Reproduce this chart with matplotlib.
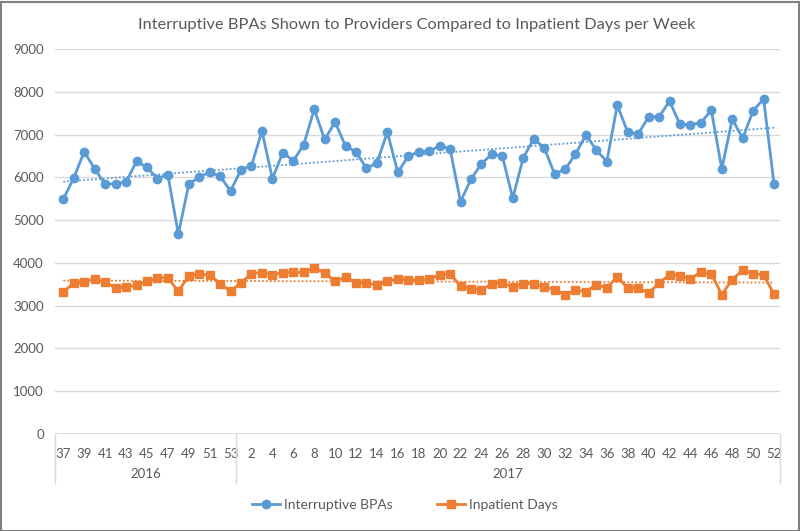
import matplotlib
matplotlib.use("Agg")
import matplotlib.pyplot as plt
import numpy as np
from matplotlib.patches import Rectangle

plt.rcParams['font.family'] = ['Lato', 'DejaVu Sans']

# ---- data ----
weeks_2016 = list(range(37, 54))
weeks_2017 = list(range(1, 53))
years = ["2016", "2017"]

bpas_2016 = [5490, 5990, 6600, 6195, 5840, 5855, 5890, 6375, 6235, 5970, 6065,
             4670, 5840, 6005, 6125, 6025, 5680]
bpas_2017 = [6180, 6275, 7080, 5970, 6580, 6385, 6765, 7590, 6885, 7290,
             6730, 6595, 6210, 6335, 7055, 6120, 6490, 6600, 6610, 6735,
             6670, 5430, 5955, 6320, 6540, 6500, 5510, 6455, 6900, 6695,
             6080, 6185, 6540, 6995, 6635, 6370, 7690, 7055, 7015, 7415,
             7415, 7780, 7240, 7235, 7275, 7570, 6195, 7360, 6915, 7555,
             7835, 5840]

days_2016 = [3320, 3530, 3545, 3630, 3545, 3420, 3440, 3475, 3570, 3650, 3650,
             3335, 3695, 3735, 3720, 3515, 3335]
days_2017 = [3540, 3750, 3775, 3720, 3775, 3780, 3780, 3890, 3765, 3565,
             3670, 3540, 3530, 3485, 3570, 3625, 3610, 3595, 3615, 3725,
             3750, 3455, 3390, 3375, 3500, 3525, 3440, 3515, 3515, 3440,
             3375, 3260, 3365, 3330, 3490, 3415, 3670, 3415, 3415, 3295,
             3530, 3725, 3705, 3625, 3790, 3740, 3260, 3610, 3830, 3750,
             3720, 3265]

series_names = ["Interruptive BPAs", "Inpatient Days"]
title = "Interruptive BPAs Shown to Providers Compared to Inpatient Days per Week"

# ---- build ----
week_labels = [str(w) for w in weeks_2016 + weeks_2017]
bpas = np.array(bpas_2016 + bpas_2017, dtype=float)
days = np.array(days_2016 + days_2017, dtype=float)
x = np.arange(len(week_labels))

BLUE = "#5B9BD5"
ORANGE = "#ED7D31"
GRID = "#D9D9D9"
TXT = "#595959"

W, H = 800, 531
fig = plt.figure(figsize=(W / 100, H / 100), dpi=100)
ax_l, ax_r, ax_t, ax_b = 55, 780, 49, 434
ax = fig.add_axes([ax_l / W, 1 - ax_b / H, (ax_r - ax_l) / W, (ax_b - ax_t) / H])

l1, = ax.plot(x, bpas, color=BLUE, lw=2.0, marker='o', ms=6, label=series_names[0], zorder=4)
l2, = ax.plot(x, days, color=ORANGE, lw=2.0, marker='s', ms=5.5, label=series_names[1], zorder=4)

for y, c in [(bpas, BLUE), (days, ORANGE)]:
    p = np.polyfit(x, y, 1)
    ax.plot(x, np.polyval(p, x), color=c, lw=1.3, ls=(0, (1, 1.2)), zorder=3)

ax.set_ylim(0, 9000)
ax.set_yticks(np.arange(0, 9001, 1000))
ax.set_xlim(-0.8, len(x) - 1 + 0.57)
ax.grid(axis='y', color=GRID, lw=1)
ax.set_axisbelow(True)
for s in ax.spines.values():
    s.set_visible(False)
ax.axhline(0, color=GRID, lw=1.2, zorder=2)

ax.set_xticks(x[::2])
ax.set_xticklabels(week_labels[::2])
ax.tick_params(axis='both', length=0, labelcolor=TXT, labelsize=9.5)
ax.tick_params(axis='x', pad=10)
ax.tick_params(axis='y', pad=8)

# category group separators and year labels
n16 = len(weeks_2016)
trans = ax.get_xaxis_transform()
ybot = -(483 - 434) / (ax_b - ax_t)
for xs in [ax.get_xlim()[0], n16 - 0.5, ax.get_xlim()[1]]:
    ax.plot([xs, xs], [0, ybot], color=GRID, lw=1, transform=trans, clip_on=False)
yl = -(474 - 434) / (ax_b - ax_t)
ax.text((ax.get_xlim()[0] + n16 - 0.5) / 2, yl, years[0], transform=trans,
        ha='center', va='center', color=TXT, fontsize=9.5)
ax.text((n16 - 0.5 + ax.get_xlim()[1]) / 2, yl, years[1], transform=trans,
        ha='center', va='center', color=TXT, fontsize=9.5)

fig.text(417 / W, 1 - 25 / H, title, ha='center', va='center', color=TXT, fontsize=11.8)

fig.legend(handles=[l1, l2], loc='center', bbox_to_anchor=(405 / W, 1 - 505 / H),
           ncol=2, frameon=False, fontsize=10, labelcolor=TXT, handlelength=2.0,
           handletextpad=0.3, columnspacing=3.2)

fig.patches.append(Rectangle((0.5 / W, 0.5 / H), 1 - 2 / W, 1 - 2 / H, transform=fig.transFigure,
                             fill=False, edgecolor="#7F7F7F", lw=1.5))

fig.savefig("out.png", dpi=100)
